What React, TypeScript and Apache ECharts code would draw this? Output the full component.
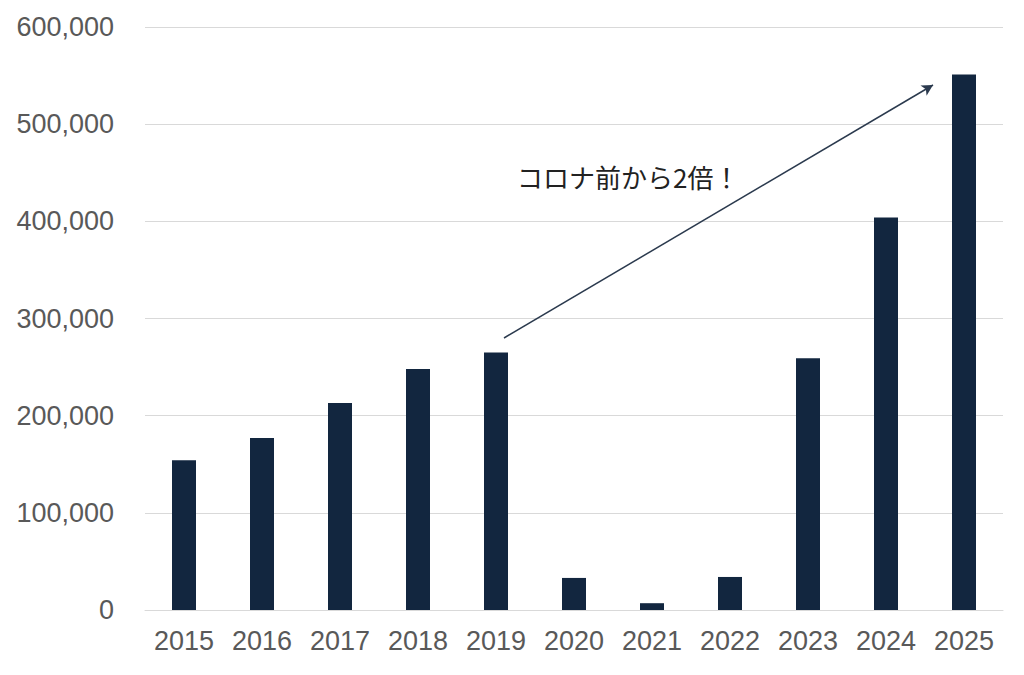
import React, { useEffect, useRef } from "react";
import * as echarts from "echarts";

const years = ["2015", "2016", "2017", "2018", "2019", "2020", "2021", "2022", "2023", "2024", "2025"];
const visitors = [154000, 177000, 213000, 248000, 265000, 33000, 7000, 34000, 259000, 404000, 551000];
const annotationText = "コロナ前から2倍！";

export default function App() {
  const ref = useRef<HTMLDivElement>(null);
  useEffect(() => {
    if (!ref.current) return;
    const chart = echarts.init(ref.current, null, { renderer: "svg" });
    chart.setOption({
      animation: false,
      backgroundColor: "#ffffff",
      grid: { left: 145, right: 21, top: 27, bottom: 65, containLabel: false },
      xAxis: {
        type: "category",
        data: years,
        axisTick: { show: false },
        axisLine: { show: true, lineStyle: { color: "#d9d9d9", width: 1 } },
        axisLabel: {
          color: "#595959",
          fontSize: 27,
          fontFamily: "Liberation Sans, Arial, sans-serif",
          margin: 17,
          interval: 0,
          hideOverlap: false,
        },
      },
      yAxis: {
        type: "value",
        min: 0,
        max: 600000,
        interval: 100000,
        axisLine: { show: false },
        axisTick: { show: false },
        splitLine: { lineStyle: { color: "#d9d9d9", width: 1 } },
        axisLabel: {
          color: "#595959",
          fontSize: 27,
          fontFamily: "Liberation Sans, Arial, sans-serif",
          margin: 31,
          formatter: (v: number) => v.toLocaleString("en-US"),
        },
      },
      series: [
        {
          type: "bar",
          data: visitors,
          barWidth: 24,
          itemStyle: { color: "#12263f" },
          markLine: {
            silent: true,
            symbol: ["none", "arrow"],
            symbolSize: [9, 11],
            label: { show: false },
            lineStyle: { color: "#2b3a4e", width: 1.5, type: "solid" },
            data: [[{ x: 504, y: 338 }, { x: 933, y: 85 }]],
          },
        },
      ],
      graphic: [
        {
          type: "text",
          left: 517,
          top: 163,
          style: {
            text: annotationText,
            fontSize: 26,
            fill: "#222222",
            fontFamily: "Noto Sans CJK JP, sans-serif",
          },
        },
      ],
    });
    return () => chart.dispose();
  }, []);
  return <div ref={ref} style={{ position: "fixed", left: 0, top: 0, width: 1024, height: 675 }} />;
}
